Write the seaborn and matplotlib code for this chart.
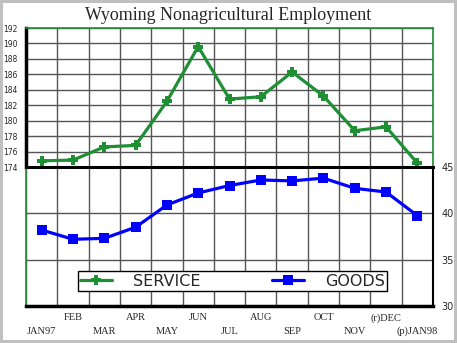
import matplotlib
matplotlib.use("Agg")
import matplotlib.pyplot as plt
import seaborn as sns
import pandas as pd
import numpy as np

months = ["JAN97", "FEB", "MAR", "APR", "MAY", "JUN", "JUL",
          "AUG", "SEP", "OCT", "NOV", "(r)DEC", "(p)JAN98"]
service = [174.8, 174.9, 176.6, 176.8, 182.5, 189.6, 182.8,
           183.1, 186.3, 183.2, 178.7, 179.2, 174.5]
goods = [38.2, 37.2, 37.3, 38.5, 40.9, 42.2, 43.0,
         43.6, 43.5, 43.8, 42.7, 42.3, 39.75]
service_ticks = [174, 176, 178, 180, 182, 184, 186, 188, 190, 192]
goods_ticks = [30, 35, 40, 45]

df = pd.DataFrame({"idx": range(len(months)), "month": months,
                   "SERVICE": service, "GOODS": goods})

sns.set_theme(style="white")
green = "#1f8f34"
blue = "#0000ff"
grid_c = "#555555"

fig = plt.figure(figsize=(4.57, 3.43), dpi=100)
fig.patch.set_facecolor("white")
fig.patch.set_edgecolor("#c0c0c0")
fig.patch.set_linewidth(3)

ax1 = fig.add_axes([0.0569, 0.5131, 0.8906, 0.4052])
ax2 = fig.add_axes([0.0569, 0.1079, 0.8906, 0.4052])

n = len(months)
cols = np.arange(-0.5, n, 1.0)

# top panel: service
sns.lineplot(data=df, x="idx", y="SERVICE", ax=ax1, color=green, lw=2.3,
             marker="P", markersize=7, markeredgewidth=0, legend=False)
ax1.set_xlim(-0.5, n - 0.5)
ax1.set_ylim(174, 192)
ax1.set_yticks(service_ticks)
ax1.set_yticklabels([str(t) for t in service_ticks], fontsize=5.5,
                    family="DejaVu Sans")
ax1.set_xticks(cols)
ax1.tick_params(axis="x", length=0, labelbottom=False)
ax1.tick_params(axis="y", length=0, pad=6)
ax1.grid(True, color=grid_c, lw=1)
ax1.set_xlabel("")
ax1.set_ylabel("")
for s in ["top", "right"]:
    ax1.spines[s].set_color(green)
    ax1.spines[s].set_linewidth(1.2)
ax1.spines["left"].set_color("black")
ax1.spines["left"].set_linewidth(2.5)
ax1.spines["bottom"].set_visible(False)

# bottom panel: goods
sns.lineplot(data=df, x="idx", y="GOODS", ax=ax2, color=blue, lw=2.3,
             marker="s", markersize=7, markeredgewidth=0, legend=False)
ax2.set_xlim(-0.5, n - 0.5)
ax2.set_ylim(30, 45)
ax2.yaxis.tick_right()
ax2.set_yticks(goods_ticks)
ax2.set_yticklabels([str(t) for t in goods_ticks], fontsize=7,
                    family="DejaVu Sans")
ax2.tick_params(axis="y", length=0, pad=6)
ax2.set_xticks(cols, minor=True)

# staggered month labels: lower row on the main axis, upper row on a secondary one
even = list(range(0, n, 2))
odd = list(range(1, n, 2))
ax2.set_xticks(even)
ax2.set_xticklabels([months[i] for i in even], fontsize=7.5,
                    family="Liberation Serif")
ax2.tick_params(axis="x", which="both", length=0, pad=15)
sec = ax2.secondary_xaxis("bottom")
sec.set_xticks(odd)
sec.set_xticklabels([months[i] for i in odd], fontsize=7.5,
                    family="Liberation Serif")
sec.tick_params(axis="x", length=0, pad=5)
sec.spines["bottom"].set_visible(False)

ax2.grid(True, which="minor", axis="x", color=grid_c, lw=1)
ax2.grid(True, which="major", axis="y", color=grid_c, lw=1)
ax2.set_xlabel("")
ax2.set_ylabel("")
ax2.spines["left"].set_color(green)
ax2.spines["left"].set_linewidth(1.2)
ax2.spines["top"].set_color("black")
ax2.spines["top"].set_linewidth(2.2)
ax2.spines["bottom"].set_color("black")
ax2.spines["bottom"].set_linewidth(2.5)
ax2.spines["right"].set_color("black")
ax2.spines["right"].set_linewidth(1.5)

# legend
h1, = ax2.plot([], [], color=green, lw=2.3, marker="P", markersize=7,
               markeredgewidth=0)
h2, = ax2.plot([], [], color=blue, lw=2.3, marker="s", markersize=7,
               markeredgewidth=0)
leg = ax2.legend([h1, h2], ["SERVICE", "GOODS"], ncol=2, loc="lower center",
                 bbox_to_anchor=(0.507, 0.108), borderaxespad=0,
                 frameon=True, fancybox=False, fontsize=11.5,
                 handlelength=2.0, columnspacing=4.5, borderpad=0.15,
                 handletextpad=1.3, handleheight=0.6)
leg.get_frame().set_edgecolor("black")
leg.get_frame().set_linewidth(1)
leg.get_frame().set_alpha(1)
for t in leg.get_texts():
    t.set_family("DejaVu Sans")

fig.text(0.5, 0.955, "Wyoming Nonagricultural Employment", ha="center",
         va="center", fontsize=13, family="Liberation Serif")

fig.savefig("out.png", dpi=100, facecolor=fig.get_facecolor(),
            edgecolor=fig.get_edgecolor())
